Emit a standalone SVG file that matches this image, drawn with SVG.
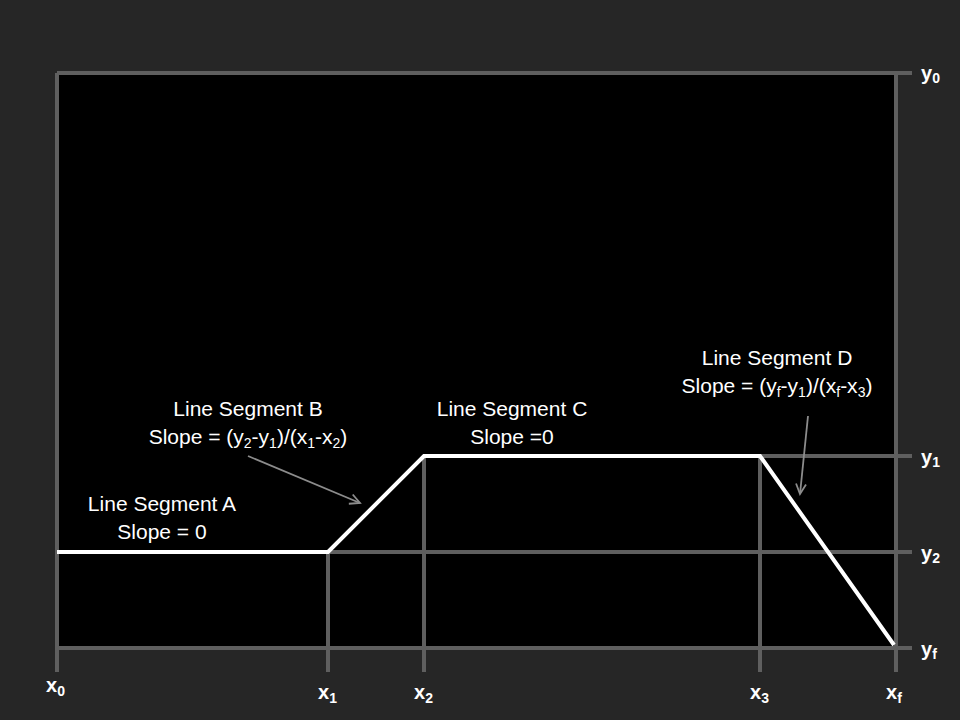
<svg xmlns="http://www.w3.org/2000/svg" width="960" height="720" viewBox="0 0 960 720">
<defs>
<style>
.grid{stroke:#5f5f5f;stroke-width:4;fill:none}
.seg{stroke:#ffffff;stroke-width:4;fill:none;stroke-linejoin:miter}
.ptr{stroke:#8c8c8c;stroke-width:1.8;fill:none}
.lbl{font-family:"Liberation Sans",Arial,sans-serif;font-size:21px;fill:#ffffff;text-anchor:middle}
.ax{font-family:"Liberation Sans",Arial,sans-serif;font-size:20px;font-weight:bold;fill:#ffffff}
.sub{font-size:14px}
</style>
<marker id="open" markerWidth="14" markerHeight="14" refX="11" refY="6" orient="auto" markerUnits="userSpaceOnUse">
<path d="M1,1 L11,6 L1,11" fill="none" stroke="#8c8c8c" stroke-width="1.8"/>
</marker>
</defs>
<rect x="0" y="0" width="960" height="720" fill="#262626"/>
<rect id="plot" x="57" y="73" width="839" height="575" fill="#000000"/>
<g id="grid">
<line class="grid" x1="57" y1="73" x2="912" y2="73"/>
<line class="grid" x1="760" y1="456" x2="912" y2="456"/>
<line class="grid" x1="328" y1="552" x2="912" y2="552"/>
<line class="grid" x1="57" y1="648" x2="912" y2="648"/>
<line class="grid" x1="57" y1="73" x2="57" y2="672"/>
<line class="grid" x1="328" y1="552" x2="328" y2="672"/>
<line class="grid" x1="424" y1="456" x2="424" y2="672"/>
<line class="grid" x1="760" y1="456" x2="760" y2="672"/>
<line class="grid" x1="896" y1="73" x2="896" y2="672"/>
</g>
<g id="segments">
<polyline class="seg" points="57,552 328,552 424,456 760,456 894,645"/>
</g>
<g id="connectors">
<line class="ptr" x1="248" y1="456" x2="360" y2="503" marker-end="url(#open)"/>
<line class="ptr" x1="808" y1="416" x2="800" y2="494" marker-end="url(#open)"/>
</g>
<g id="labelA">
<text class="lbl" x="162" y="511">Line Segment A</text>
<text class="lbl" x="162" y="539">Slope = 0</text>
</g>
<g id="labelB">
<text class="lbl" x="248" y="416">Line Segment B</text>
<text class="lbl" x="248" y="444">Slope = (y<tspan class="sub" dy="4">2</tspan><tspan dy="-4">-y</tspan><tspan class="sub" dy="4">1</tspan><tspan dy="-4">)/(x</tspan><tspan class="sub" dy="4">1</tspan><tspan dy="-4">-x</tspan><tspan class="sub" dy="4">2</tspan><tspan dy="-4">)</tspan></text>
</g>
<g id="labelC">
<text class="lbl" x="512" y="416">Line Segment C</text>
<text class="lbl" x="512" y="444">Slope =0</text>
</g>
<g id="labelD">
<text class="lbl" x="777" y="365">Line Segment D</text>
<text class="lbl" x="777" y="393">Slope = (y<tspan class="sub" dy="4">f</tspan><tspan dy="-4">-y</tspan><tspan class="sub" dy="4">1</tspan><tspan dy="-4">)/(x</tspan><tspan class="sub" dy="4">f</tspan><tspan dy="-4">-x</tspan><tspan class="sub" dy="4">3</tspan><tspan dy="-4">)</tspan></text>
</g>
<g id="axisY">
<text class="ax" x="921" y="80">y<tspan class="sub" dy="3">0</tspan></text>
<text class="ax" x="921" y="464">y<tspan class="sub" dy="3">1</tspan></text>
<text class="ax" x="921" y="560">y<tspan class="sub" dy="3">2</tspan></text>
<text class="ax" x="921" y="656">y<tspan class="sub" dy="3">f</tspan></text>
</g>
<g id="axisX">
<text class="ax" x="46" y="692">x<tspan class="sub" dy="4">0</tspan></text>
<text class="ax" x="318" y="699">x<tspan class="sub" dy="4">1</tspan></text>
<text class="ax" x="414" y="699">x<tspan class="sub" dy="4">2</tspan></text>
<text class="ax" x="750" y="699">x<tspan class="sub" dy="4">3</tspan></text>
<text class="ax" x="886" y="699">x<tspan class="sub" dy="4">f</tspan></text>
</g>
</svg>
